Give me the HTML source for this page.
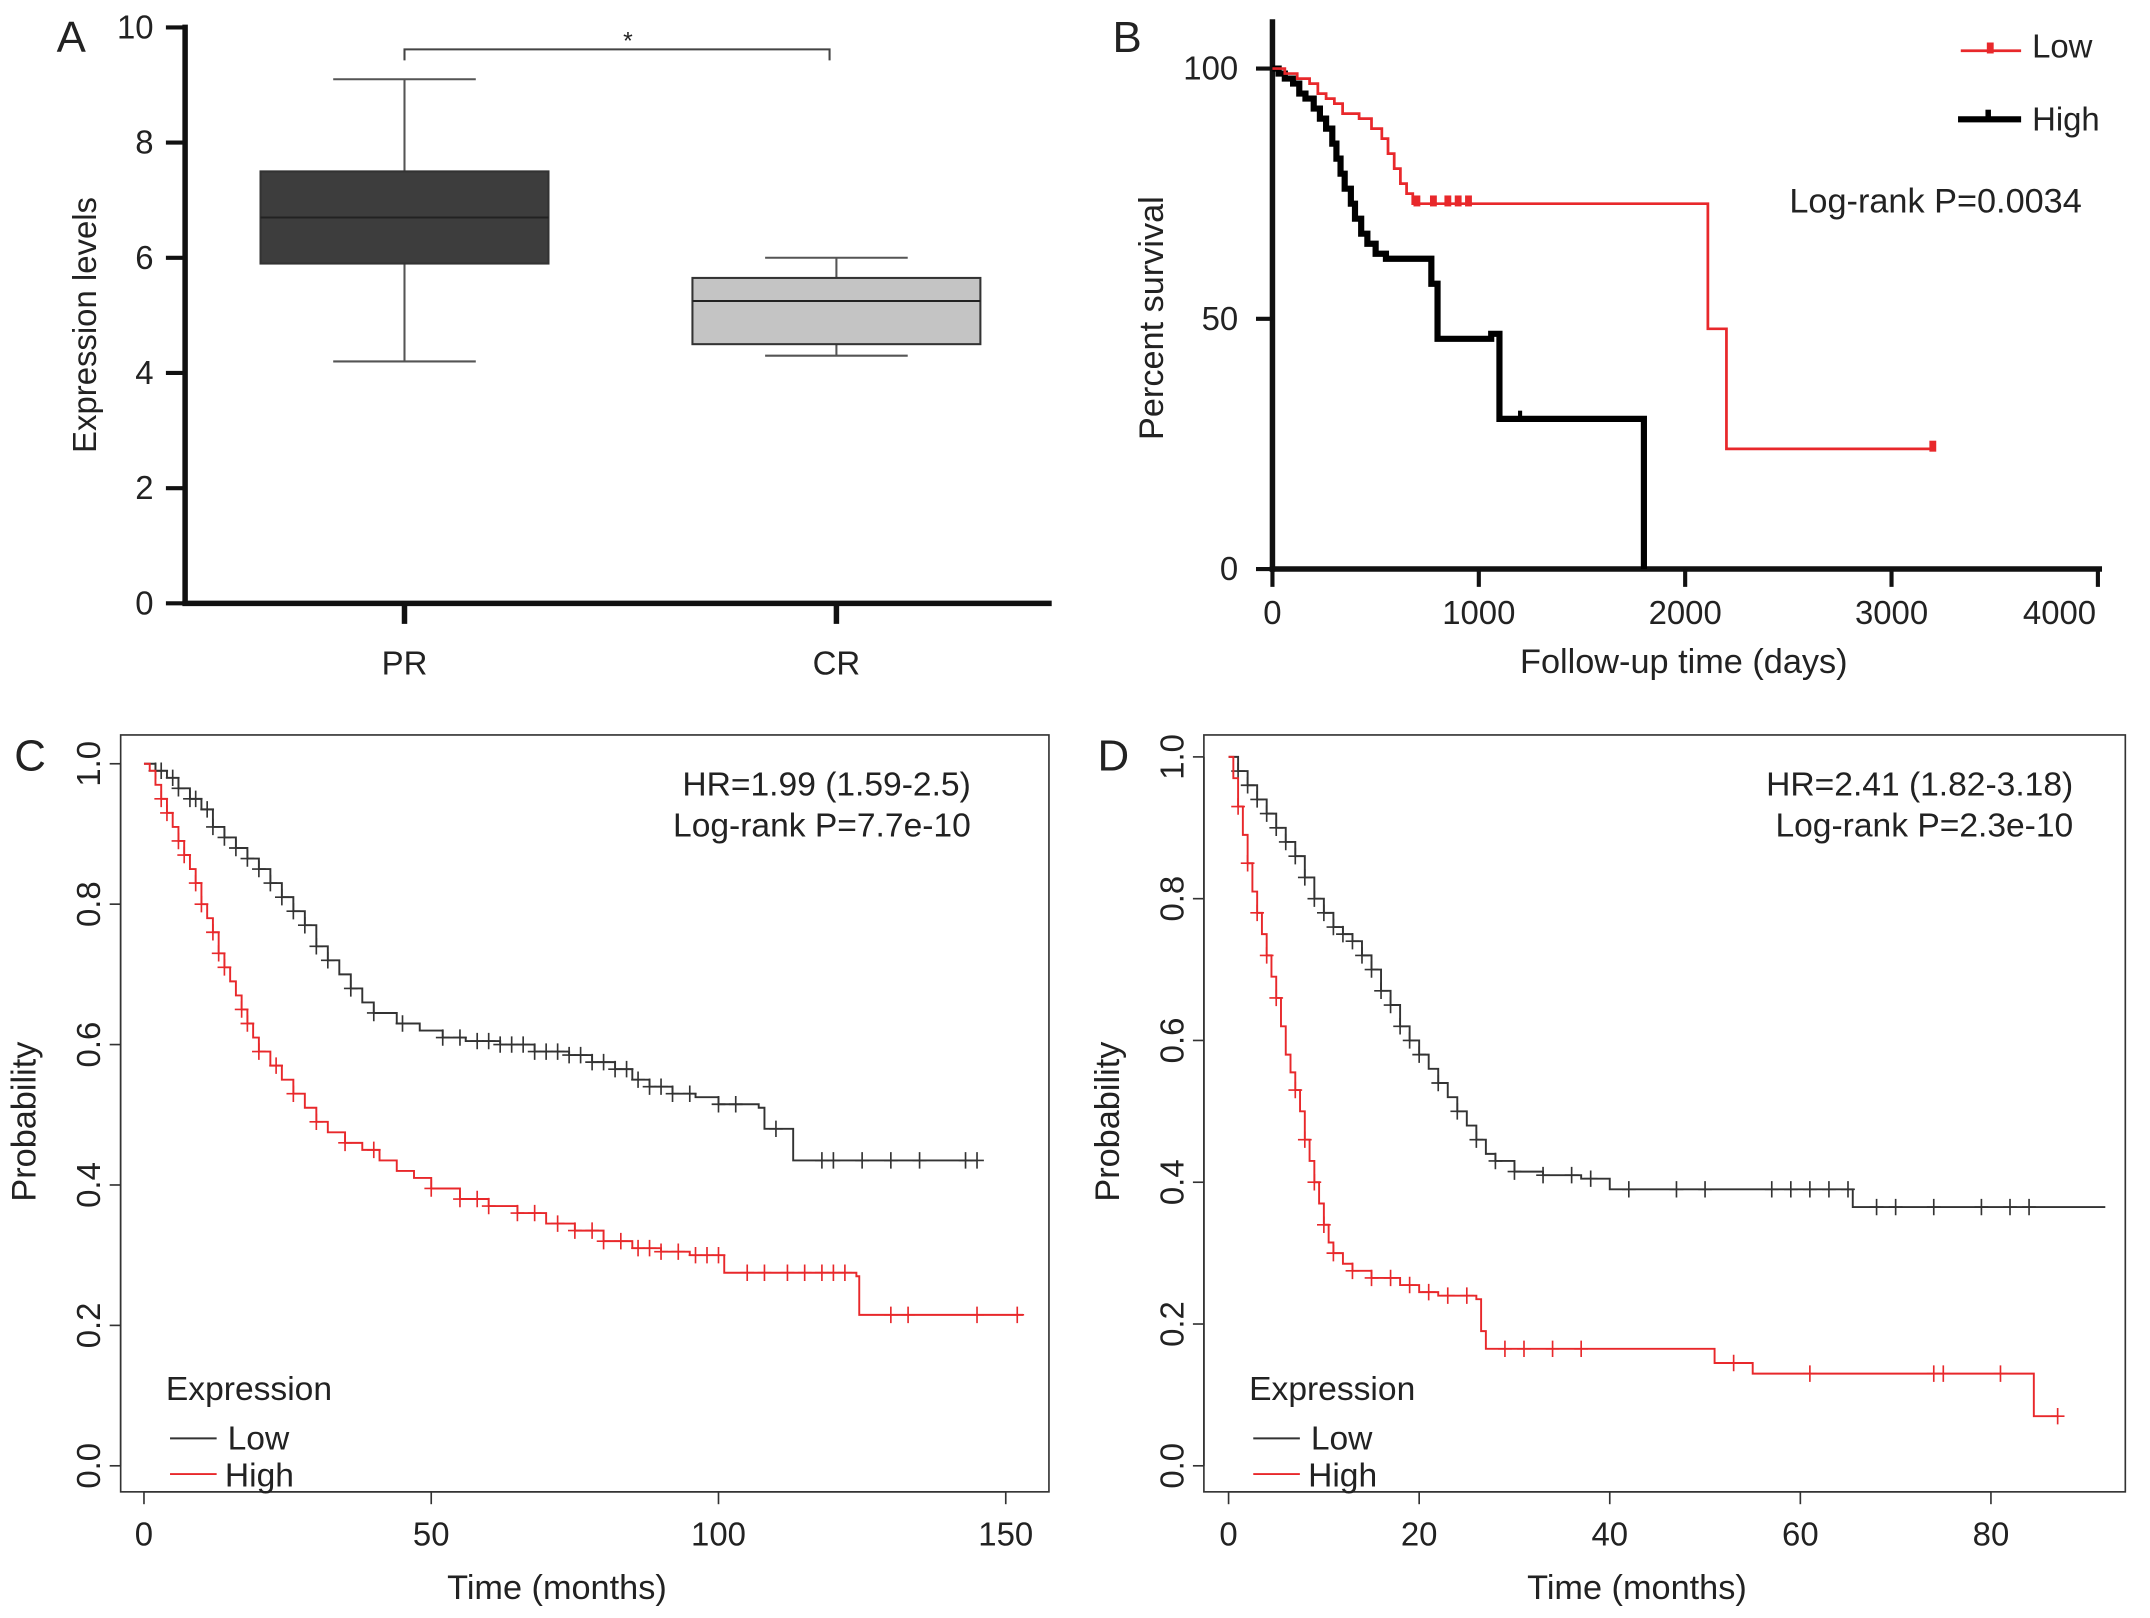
<!DOCTYPE html>
<html><head><meta charset="utf-8"><style>
html,body{margin:0;padding:0;background:#fff}
svg{display:block;font-family:"Liberation Sans",Arial,sans-serif}
</style></head><body>
<svg id="fig" width="2150" height="1618" viewBox="0 0 1568 1180" preserveAspectRatio="none">
<rect width="1568" height="1180" fill="#fff"/>
</svg>
<script>
// ---- Panel A data ----
const boxCats=["PR","CR"];
const boxQ1=[5.9,4.5], boxQ3=[7.5,5.65], boxMed=[6.7,5.25], boxMin=[4.2,4.3], boxMax=[9.1,6.0];
const boxFill=["#3d3d3d","#c4c4c4"];
const aTicks=[0,2,4,6,8,10];
// ---- Panel B data ----
const bLowT=[0,60,120,180,220,260,300,340,420,480,530,560,590,620,650,680,2100,2110,2200,3200];
const bLowS=[100,99,98,97,95,94,93,91,90,88,86,83,80,77,75,73,73,48,24,24];
const bHighT=[0,30,60,100,130,160,200,230,260,290,310,330,350,380,400,430,460,500,550,750,770,800,1050,1060,1100,1800];
const bHighS=[100,99,98,97,95,94,92,90,88,85,82,79,76,73,70,67,65,63,62,62,57,46,46,47,30,0];
const bLowCens=[700,780,850,900,950,3200];
const bHighCens=[1100,1200];
const bXTicks=[0,1000,2000,3000,4000], bYTicks=[0,50,100];
// ---- Panel C data ----
const cLowT=[0,2,4,6,8,10,12,14,16,18,20,22,24,26,28,30,32,34,36,38,40,44,48,52,56,62,68,74,78,82,85,88,92,96,100,107,108,113,145];
const cLowS=[1,0.99,0.98,0.965,0.95,0.935,0.91,0.895,0.88,0.865,0.85,0.83,0.81,0.79,0.77,0.74,0.72,0.70,0.68,0.66,0.645,0.63,0.62,0.61,0.605,0.60,0.59,0.585,0.575,0.565,0.55,0.54,0.53,0.525,0.515,0.51,0.48,0.435,0.435];
const cHighT=[0,1,2,3,4,5,6,7,8,9,10,11,12,13,14,15,16,17,18,19,20,22,24,26,28,30,32,35,38,41,44,47,50,55,60,65,70,75,80,85,90,95,101,124,124.5,153];
const cHighS=[1,0.99,0.97,0.95,0.93,0.91,0.89,0.87,0.85,0.83,0.80,0.78,0.76,0.73,0.71,0.69,0.67,0.65,0.63,0.61,0.59,0.57,0.55,0.53,0.51,0.49,0.475,0.46,0.45,0.435,0.42,0.41,0.395,0.38,0.37,0.36,0.345,0.335,0.32,0.31,0.305,0.30,0.275,0.27,0.215,0.215];
const cLowCens=[2,3,5,6,8,9,11,12,14,16,18,20,22,24,26,28,30,32,36,40,45,52,55,58,60,62,64,66,68,70,72,74,76,78,80,82,84,86,88,90,92,95,100,103,110,118,120,125,130,135,143,145];
const cHighCens=[3,4,6,7,9,10,12,13,14,17,18,20,23,26,30,35,40,50,55,58,60,65,68,72,75,78,80,83,86,88,90,93,96,98,100,105,108,112,115,118,120,122,130,133,145,152];
const cXTicks=[0,50,100,150], pYTicks=[0,0.2,0.4,0.6,0.8,1.0];
// ---- Panel D data ----
const dLowT=[0,1,2,3,4,5,6,7,8,9,10,11,12,13,14,15,16,17,18,19,20,21,22,23,24,25,26,27,28,30,33,37,40,65,65.5,92];
const dLowS=[1,0.98,0.96,0.94,0.92,0.90,0.88,0.86,0.83,0.80,0.78,0.76,0.75,0.74,0.72,0.70,0.67,0.65,0.62,0.60,0.58,0.56,0.54,0.52,0.50,0.48,0.46,0.44,0.43,0.415,0.41,0.405,0.39,0.39,0.365,0.365];
const dHighT=[0,0.5,1,1.5,2,2.5,3,3.5,4,4.5,5,5.5,6,6.5,7,7.5,8,8.5,9,9.5,10,10.5,11,12,13,15,18,20,22,26,26.5,27,50,51,55,84,84.5,87];
const dHighS=[1,0.97,0.93,0.89,0.85,0.81,0.78,0.75,0.72,0.69,0.66,0.62,0.58,0.555,0.53,0.50,0.46,0.43,0.40,0.37,0.34,0.315,0.30,0.285,0.275,0.265,0.255,0.245,0.24,0.235,0.19,0.165,0.165,0.145,0.13,0.13,0.07,0.07];
const dLowCens=[1,2,3,4,5,6,7,8,9,10,11,12,13,14,15,16,17,18,19,20,22,24,26,28,30,33,36,38,42,47,50,57,59,61,63,65,68,70,74,79,82,84];
const dHighCens=[1,2,3,4,5,7,8,9,10,11,13,15,17,19,21,23,25,29,31,34,37,53,61,74,75,81,87];
const dXTicks=[0,20,40,60,80];

const NS="http://www.w3.org/2000/svg", svg=document.getElementById('fig');
function el(tag,attrs,parent){const e=document.createElementNS(NS,tag);for(const k in attrs)e.setAttribute(k,attrs[k]);(parent||svg).appendChild(e);return e;}
function txt(s,x,y,size,anchor,parent,rot){const t=el('text',{x:x,y:y,'font-size':size,'text-anchor':anchor||'middle',fill:'#222'},parent);if(rot)t.setAttribute('transform','rotate(-90 '+x+' '+y+')');t.textContent=s;return t;}
function stepAt(T,S,t){let v=S[0];for(let i=0;i<T.length;i++){if(T[i]<=t)v=S[i];}return v;}
function stepPath(T,S,X,Y){let d='M'+X(T[0])+','+Y(S[0]);for(let i=1;i<T.length;i++){d+='H'+X(T[i])+'V'+Y(S[i]);}return d;}

// ===== Panel A =====
(function(){
const g=el('g',{});  
const Y=v=>440-v*42, X=[295,610], hw=105;
txt('A',52,38,32,'middle',g);
el('line',{x1:135,y1:18,x2:135,y2:441,stroke:'#111','stroke-width':4},g);
el('line',{x1:133,y1:440,x2:767,y2:440,stroke:'#111','stroke-width':4},g);
aTicks.forEach(v=>{el('line',{x1:121,y1:Y(v),x2:135,y2:Y(v),stroke:'#111','stroke-width':3},g);txt(String(v),112,Y(v)+8,24,'end',g);});
boxCats.forEach((c,i)=>{
  el('line',{x1:X[i],y1:440,x2:X[i],y2:455,stroke:'#111','stroke-width':4},g);
  txt(c,X[i],492,24,'middle',g);
  const bg=el('g',{},g);  
  el('line',{x1:X[i],y1:Y(boxMax[i]),x2:X[i],y2:Y(boxMin[i]),stroke:'#555','stroke-width':1.5},bg);
  el('line',{x1:X[i]-52,y1:Y(boxMax[i]),x2:X[i]+52,y2:Y(boxMax[i]),stroke:'#555','stroke-width':1.5},bg);
  el('line',{x1:X[i]-52,y1:Y(boxMin[i]),x2:X[i]+52,y2:Y(boxMin[i]),stroke:'#555','stroke-width':1.5},bg);
  el('rect',{x:X[i]-hw,y:Y(boxQ3[i]),width:2*hw,height:Y(boxQ1[i])-Y(boxQ3[i]),fill:boxFill[i],stroke:'#333','stroke-width':1.5},bg);
  el('line',{x1:X[i]-hw,y1:Y(boxMed[i]),x2:X[i]+hw,y2:Y(boxMed[i]),stroke:'#222','stroke-width':1.5},bg);
});
el('path',{d:'M295,44V36H605V44',fill:'none',stroke:'#444','stroke-width':1.5},g);
txt('*',458,36,18,'middle',g);
txt('Expression levels',70,237,24,'middle',g,true);
})();

// ===== Panel B =====
(function(){
const g=el('g',{});  
const X=t=>928+t*0.1505, Y=s=>415-s*3.65;
txt('B',822,38,32,'middle',g);
el('line',{x1:928,y1:14,x2:928,y2:417,stroke:'#111','stroke-width':4},g);
el('line',{x1:926,y1:415,x2:1533,y2:415,stroke:'#111','stroke-width':4},g);
bXTicks.forEach((v,i)=>{el('line',{x1:X(v),y1:415,x2:X(v),y2:428,stroke:'#111','stroke-width':3},g);txt(String(v),i===bXTicks.length-1?X(v)-28:X(v),455,24,'middle',g);});
bYTicks.forEach(v=>{el('line',{x1:916,y1:Y(v),x2:928,y2:Y(v),stroke:'#111','stroke-width':3},g);txt(String(v),903,Y(v)+8,24,'end',g);});
const hi=el('path',{d:stepPath(bHighT,bHighS,X,Y),fill:'none',stroke:'#000','stroke-width':4.5},g);
 
const lo=el('path',{d:stepPath(bLowT,bLowS,X,Y),fill:'none',stroke:'#e8282b','stroke-width':2},g);
 
bLowCens.forEach(t=>{el('rect',{x:X(t)-2.5,y:Y(stepAt(bLowT,bLowS,t))-6,width:5,height:8,fill:'#e8282b'},g);});
bHighCens.forEach(t=>{el('line',{x1:X(t),y1:Y(stepAt(bHighT,bHighS,t))-6,x2:X(t),y2:Y(stepAt(bHighT,bHighS,t)),stroke:'#000','stroke-width':3},g);});
const l1=el('g',{},g);  
el('line',{x1:1430,y1:37,x2:1474,y2:37,stroke:'#e8282b','stroke-width':2},l1);
el('rect',{x:1449,y:31,width:5,height:8,fill:'#e8282b'},l1);
txt('Low',1482,42,24,'start',l1);
const l2=el('g',{},g);  
el('line',{x1:1428,y1:87,x2:1474,y2:87,stroke:'#000','stroke-width':4.5},l2);
el('rect',{x:1448,y:80,width:4,height:8,fill:'#000'},l2);
txt('High',1482,95,24,'start',l2);
txt('Log-rank P=0.0034',1305,155,25,'start',g);
txt('Percent survival',848,232,25,'middle',g,true);
txt('Follow-up time (days)',1228,491,25,'middle',g);
})();

// ===== KM panels C & D =====
function kmPanel(name,letter,bx,bw,x0,pxPer,y1,xTicks,lowT,lowS,highT,highS,lowC,highC,hr,pv,hrX,legY){
const g=el('g',{});  
const X=t=>x0+t*pxPer, Y=p=>1069-p*(1069-y1);
txt(letter,bx-66,562,32,'middle',g);
el('rect',{x:bx,y:536,width:bw,height:552,fill:'none',stroke:'#333','stroke-width':1.2},g);
el('line',{x1:bx,y1:Y(0),x2:bx,y2:Y(1),stroke:'#333','stroke-width':1.2},g);
pYTicks.forEach(v=>{el('line',{x1:bx-8,y1:Y(v),x2:bx,y2:Y(v),stroke:'#333','stroke-width':1.2},g);txt(v.toFixed(1),bx-15,Y(v),24,'middle',g,true);});
el('line',{x1:X(xTicks[0]),y1:1088,x2:X(xTicks[xTicks.length-1]),y2:1088,stroke:'#333','stroke-width':1.2},g);
xTicks.forEach(v=>{el('line',{x1:X(v),y1:1088,x2:X(v),y2:1097,stroke:'#333','stroke-width':1.2},g);txt(String(v),X(v),1127,24,'middle',g);});
txt('Probability',bx-62,818,25,'middle',g,true);
txt('Time (months)',bx+bw*0.47,1166,25,'middle',g);
[[lowT,lowS,lowC,'#333','low-curve'],[highT,highS,highC,'#e8282b','high-curve']].forEach(([T,S,C,col,nm])=>{
  const p=el('path',{d:stepPath(T,S,X,Y),fill:'none',stroke:col,'stroke-width':1.4},g);
   
  C.forEach(t=>{const x=X(t),y=Y(stepAt(T,S,t));el('path',{d:'M'+x+','+(y-6)+'V'+(y+6)+'M'+(x-5)+','+y+'H'+(x+5),stroke:col,'stroke-width':1.2},g);});
});
txt(hr,hrX,580,24.5,'end',g); txt(pv,hrX,610,24.5,'end',g);
const lg=el('g',{},g);  
txt('Expression',bx+33,legY,24.5,'start',lg);
el('line',{x1:bx+36,y1:legY+28,x2:bx+70,y2:legY+28,stroke:'#333','stroke-width':1.4},lg);
txt('Low',bx+78,legY+36,24.5,'start',lg);
el('line',{x1:bx+36,y1:legY+54,x2:bx+70,y2:legY+54,stroke:'#e8282b','stroke-width':1.4},lg);
txt('High',bx+76,legY+63,24.5,'start',lg);
}
kmPanel('panel-c','C',88,677,105,4.19,557,cXTicks,cLowT,cLowS,cHighT,cHighS,cLowCens,cHighCens,'HR=1.99 (1.59-2.5)','Log-rank P=7.7e-10',708,1021);
kmPanel('panel-d','D',878,672,896,6.95,552,dXTicks,dLowT,dLowS,dHighT,dHighS,dLowCens,dHighCens,'HR=2.41 (1.82-3.18)','Log-rank P=2.3e-10',1512,1021);
</script>
</body></html>
